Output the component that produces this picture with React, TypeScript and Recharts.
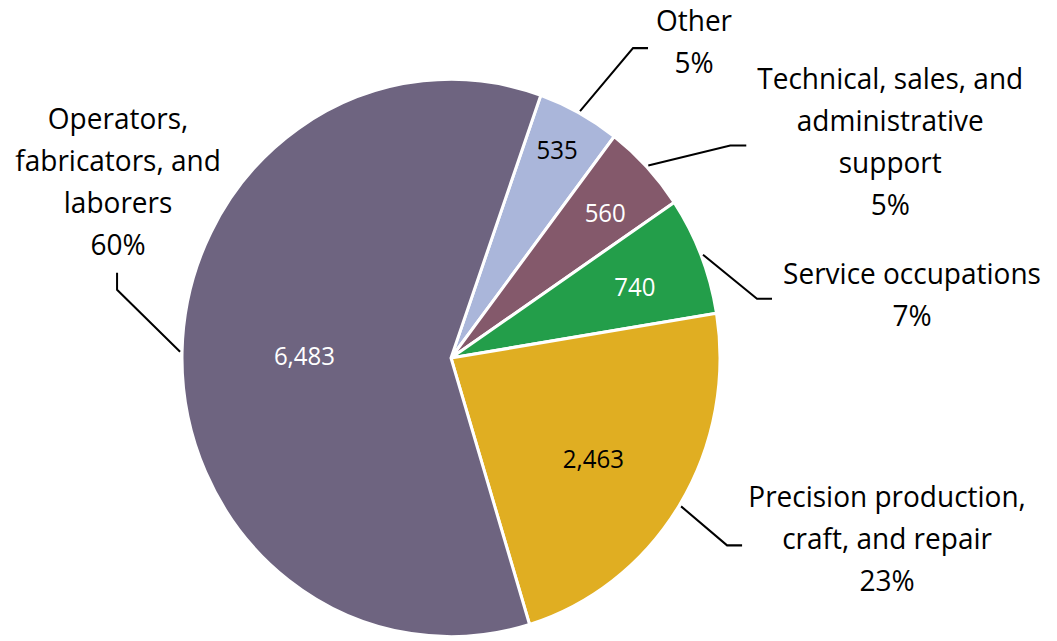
import React from 'react';
import { PieChart, Pie, Cell } from 'recharts';

// ---- data ----
const categories = [
  'Other',
  'Technical, sales, and administrative support',
  'Service occupations',
  'Precision production, craft, and repair',
  'Operators, fabricators, and laborers',
];
const employment = [535, 560, 740, 2463, 6483];
const valueLabels = ['535', '560', '740', '2,463', '6,483'];
const labelLines = [
  ['Other'],
  ['Technical, sales, and', 'administrative', 'support'],
  ['Service occupations'],
  ['Precision production,', 'craft, and repair'],
  ['Operators,', 'fabricators, and', 'laborers'],
];

// ---- styles / layout ----
const colors = ['#AAB6DA', '#84596B', '#239E4A', '#E0AE22', '#6E6480'];
const valueColors = ['#000000', '#ffffff', '#ffffff', '#000000', '#ffffff'];

const W = 1057;
const H = 641;
const CX = 451;
const CY = 358;
const R = 269;
const SY = 1.036; // the reference pie is slightly taller than wide
const FONT = '"Open Sans", "Noto Sans", sans-serif';
const LINE_H = 42;

// offsets in screen pixels: elbow from leader start, tail from elbow, text (first line centre) from tail end
const outerLayout = [
  { elbow: [53, -63], tail: [15, 0], text: [46, -28] },
  { elbow: [82, -20], tail: [16, 0], text: [144, -68] },
  { elbow: [54, 44], tail: [15, 0], text: [140, -26] },
  { elbow: [46, 39], tail: [15, 0], text: [145, -50] },
  { elbow: [-63, -62], tail: [0, -17], text: [1, -155] },
];
const innerLayout = [
  { r: 0.845, da: 0.6 },
  { r: 0.775, da: -1 },
  { r: 0.73, da: -1.1 },
  { r: 0.64, da: -2.3 },
  { r: 0.545, da: 0.1 },
];

const data = categories.map((name, i) => ({ name, value: employment[i] }));

const RAD = Math.PI / 180;

const renderLabel = (props: any) => {
  const { cx, cy, midAngle, outerRadius, index, percent } = props;
  const lay = outerLayout[index];
  const inn = innerLayout[index];
  const sx = cx + (outerRadius + 2) * Math.cos(-midAngle * RAD);
  const sy = cy + (outerRadius + 2) * Math.sin(-midAngle * RAD);
  const ex = sx + lay.elbow[0];
  const ey = sy + lay.elbow[1] / SY;
  const tx = ex + lay.tail[0];
  const ty = ey + lay.tail[1] / SY;
  const textX = tx + lay.text[0];
  const textY0 = ty + lay.text[1] / SY;
  const lines = [...labelLines[index], `${Math.round(percent * 100)}%`];

  const ia = midAngle + inn.da;
  const ir = outerRadius * inn.r;
  const ix = cx + ir * Math.cos(-ia * RAD);
  const iy = cy + ir * Math.sin(-ia * RAD);

  return (
    <g>
      <polyline
        points={`${sx},${sy} ${ex},${ey} ${tx},${ty}`}
        fill="none"
        stroke="#000"
        strokeWidth={2}
      />
      {lines.map((ln, k) => (
        <text
          key={k}
          x={textX}
          y={textY0 + (k * LINE_H) / SY}
          textAnchor="middle"
          dominantBaseline="central"
          fontSize={28}
          fontFamily={FONT}
          fill="#000"
        >
          {ln}
        </text>
      ))}
      <text
        x={ix}
        y={iy}
        textAnchor="middle"
        dominantBaseline="central"
        fontSize={24}
        fontFamily={FONT}
        fill={valueColors[index]}
      >
        {valueLabels[index]}
      </text>
    </g>
  );
};

export default function App() {
  return (
    <div
      style={{
        position: 'absolute',
        left: 0,
        top: 0,
        width: W,
        height: H,
        transform: `scaleY(${SY})`,
        transformOrigin: `${CX}px ${CY}px`,
      }}
    >
      <PieChart width={W} height={H} margin={{ top: 0, right: 0, bottom: 0, left: 0 }}>
        <Pie
          data={data}
          dataKey="value"
          nameKey="name"
          cx={CX}
          cy={CY}
          outerRadius={R}
          startAngle={70.5}
          endAngle={-289.5}
          stroke="#ffffff"
          strokeWidth={3}
          labelLine={false}
          label={renderLabel}
          isAnimationActive={false}
        >
          {data.map((d, i) => (
            <Cell key={d.name} fill={colors[i]} />
          ))}
        </Pie>
      </PieChart>
    </div>
  );
}
